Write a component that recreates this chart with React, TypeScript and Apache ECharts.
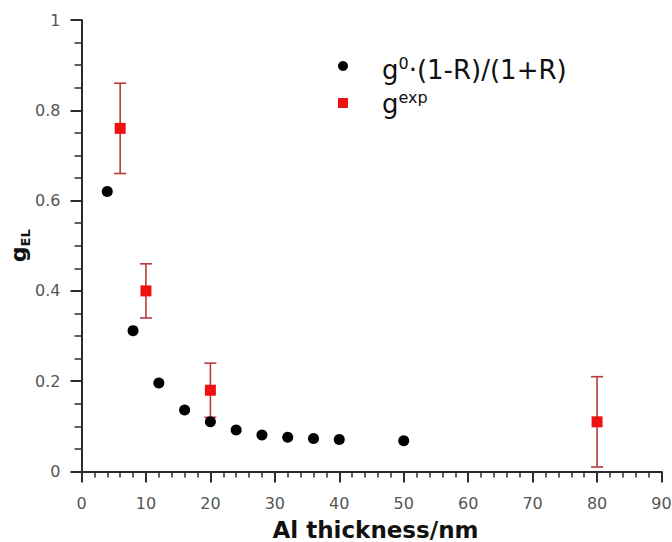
import { useEffect, useRef } from "react";
import * as echarts from "echarts";

// Aluminium layer thickness (nm) and the model prediction g0·(1-R)/(1+R)
const thicknessModel = [4, 8, 12, 16, 20, 24, 28, 32, 36, 40, 50];
const gModel = [0.62, 0.312, 0.196, 0.136, 0.11, 0.092, 0.081, 0.076, 0.073, 0.071, 0.068];

// Measured g (g^exp) with symmetric uncertainties
const thicknessExp = [6, 10, 20, 80];
const gExp = [0.76, 0.4, 0.18, 0.11];
const gExpErr = [0.1, 0.06, 0.06, 0.1];

const FONT = "'DejaVu Sans', 'Open Sans', sans-serif";
const AXIS_COLOR = "#2b2b2b";
const LABEL_COLOR = "#555555";
const ERR_COLOR = "#b83a3a";
const SQUARE_COLOR = "#ee1111";

export default function App() {
  const ref = useRef<HTMLDivElement>(null);

  useEffect(() => {
    if (!ref.current) return;
    const chart = echarts.init(ref.current, null, { renderer: "svg" });

    const modelData = thicknessModel.map((x, i) => [x, gModel[i]]);
    const expData = thicknessExp.map((x, i) => [x, gExp[i]]);
    const errData = thicknessExp.map((x, i) => [x, gExp[i] - gExpErr[i], gExp[i] + gExpErr[i]]);

    const legendRich = {
      g: { fontFamily: FONT, fontSize: 26, fill: "#111", lineHeight: 30, verticalAlign: "middle" },
      sup: { fontFamily: FONT, fontSize: 16, fill: "#111", lineHeight: 16, verticalAlign: "top" },
    };

    chart.setOption({
      animation: false,
      backgroundColor: "#ffffff",
      textStyle: { fontFamily: FONT },
      grid: {
        left: 81.5,
        right: 10.5,
        top: 20,
        bottom: 70.5,
        containLabel: false,
        outerBoundsMode: "none",
      },
      xAxis: {
        type: "value",
        min: 0,
        max: 90,
        interval: 10,
        name: "Al thickness/nm",
        nameLocation: "middle",
        nameGap: 47,
        nameMoveOverlap: false,
        nameTextStyle: { fontFamily: FONT, fontSize: 23, fontWeight: "bold", color: "#111", padding: [0, 0, 0, 8] },
        axisLine: { show: true, onZero: false, lineStyle: { color: AXIS_COLOR, width: 2 } },
        axisTick: { show: true, inside: false, length: 11, lineStyle: { color: AXIS_COLOR, width: 2 } },
        minorTick: { show: true, splitNumber: 5, length: 6, lineStyle: { color: AXIS_COLOR, width: 1.5 } },
        axisLabel: { fontFamily: FONT, fontSize: 16, color: LABEL_COLOR, margin: 24 },
        splitLine: { show: false },
      },
      yAxis: {
        type: "value",
        min: 0,
        max: 1,
        interval: 0.2,
        name: "{g|g}{sub|EL}",
        nameLocation: "middle",
        nameRotate: 90,
        nameGap: 50,
        nameMoveOverlap: false,
        nameTextStyle: {
          fontFamily: FONT,
          fontWeight: "bold",
          color: "#111",
          rich: {
            g: { fontFamily: FONT, fontSize: 22, fontWeight: "bold", color: "#111", lineHeight: 26, verticalAlign: "middle" },
            sub: { fontFamily: FONT, fontSize: 13, fontWeight: "bold", color: "#111", lineHeight: 13, verticalAlign: "bottom" },
          },
        },
        axisLine: { show: true, onZero: false, lineStyle: { color: AXIS_COLOR, width: 2 } },
        axisTick: { show: true, inside: false, length: 11, lineStyle: { color: AXIS_COLOR, width: 2 } },
        minorTick: { show: true, splitNumber: 4, length: 7, lineStyle: { color: AXIS_COLOR, width: 1.5 } },
        axisLabel: {
          fontFamily: FONT,
          fontSize: 16,
          color: LABEL_COLOR,
          margin: 21,
          formatter: (v: number) => String(Math.round(v * 10) / 10),
        },
        splitLine: { show: false },
      },
      series: [
        {
          name: "error",
          type: "custom",
          z: 2,
          data: errData,
          encode: { x: 0, y: [1, 2] },
          renderItem: (_params: any, api: any) => {
            const x = api.value(0);
            const lo = api.value(1);
            const hi = api.value(2);
            const top = api.coord([x, hi]);
            const bot = api.coord([x, lo]);
            const half = 6;
            const style = { stroke: ERR_COLOR, lineWidth: 1.6, fill: "none" };
            return {
              type: "group",
              children: [
                { type: "line", shape: { x1: top[0], y1: top[1], x2: bot[0], y2: bot[1] }, style },
                { type: "line", shape: { x1: top[0] - half, y1: top[1], x2: top[0] + half, y2: top[1] }, style },
                { type: "line", shape: { x1: bot[0] - half, y1: bot[1], x2: bot[0] + half, y2: bot[1] }, style },
              ],
            };
          },
        },
        {
          name: "model",
          type: "scatter",
          z: 3,
          symbol: "circle",
          symbolSize: 11,
          itemStyle: { color: "#000000", opacity: 1 },
          data: modelData,
        },
        {
          name: "exp",
          type: "scatter",
          z: 4,
          symbol: "rect",
          symbolSize: 11,
          itemStyle: { color: SQUARE_COLOR, opacity: 1 },
          data: expData,
        },
      ],
      graphic: [
        { type: "circle", shape: { cx: 343, cy: 66, r: 5 }, style: { fill: "#000" } },
        {
          type: "text",
          x: 382,
          y: 70,
          style: {
            text: "{g|g}{sup|0}{g|·(1-R)/(1+R)}",
            verticalAlign: "middle",
            rich: legendRich,
          },
        },
        { type: "rect", shape: { x: 338, y: 98, width: 10, height: 10 }, style: { fill: SQUARE_COLOR } },
        {
          type: "text",
          x: 382,
          y: 104,
          style: {
            text: "{g|g}{sup|exp}",
            verticalAlign: "middle",
            rich: legendRich,
          },
        },
      ],
    });

    return () => chart.dispose();
  }, []);

  return (
    <div
      ref={ref}
      style={{ position: "fixed", left: 0, top: 0, width: 672, height: 542, background: "#fff" }}
    />
  );
}
